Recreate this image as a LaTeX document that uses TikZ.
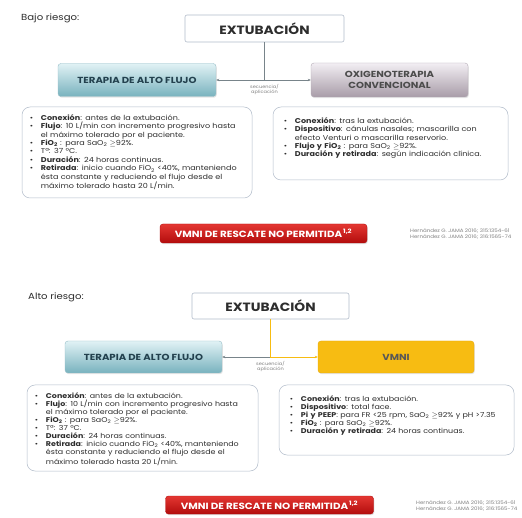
\documentclass[tikz,border=0pt]{standalone}
\usepackage{fontspec}
\setmainfont{Poppins}[FakeStretch=1.15]
\usetikzlibrary{shadows,arrows.meta}
\definecolor{tealtop}{RGB}{225,242,245}
\definecolor{tealbot}{RGB}{120,178,190}
\definecolor{tealedge}{RGB}{150,190,200}
\definecolor{tealtext}{RGB}{35,65,78}
\definecolor{greytop}{RGB}{242,238,243}
\definecolor{greybot}{RGB}{168,156,168}
\definecolor{greyedge}{RGB}{180,172,182}
\definecolor{vmnicol}{RGB}{247,188,18}
\definecolor{vmniedge}{RGB}{232,170,10}
\definecolor{redtop}{RGB}{228,55,50}
\definecolor{redbot}{RGB}{178,12,12}
\definecolor{boxedge}{RGB}{178,188,202}
\definecolor{linegrey}{RGB}{120,132,138}
\definecolor{txt}{RGB}{45,45,45}
\newcommand\bitem[1]{\par\hangindent=12pt\hangafter=1\noindent\makebox[12pt][l]{\hspace{1pt}•}#1}
\newcommand\hfnclist{%
\bitem{\textbf{Conexión}: antes de la extubación.}
\bitem{\textbf{Flujo}: 10 L/min con incremento progresivo hasta\newline el máximo tolerado por el paciente.}
\bitem{\textbf{FiO\textsubscript{2}} : para SaO\textsubscript{2} $\geq$92\%.}
\bitem{Tª: 37 ºC.}
\bitem{\textbf{Duración}: 24 horas continuas.}
\bitem{\textbf{Retirada}: inicio cuando FiO\textsubscript{2} <40\%, manteniendo\newline ésta constante y reduciendo el flujo desde el\newline máximo tolerado hasta 20 L/min.}\par}
\tikzset{
  hdr/.style={draw=boxedge, fill=white, rounded corners=2pt, line width=0.6pt,
    inner sep=0pt, font=\fontsize{12}{14}\selectfont\bfseries, text=txt},
  tbox/.style={rounded corners=3pt, draw=tealedge, top color=tealtop, bottom color=tealbot,
    drop shadow={opacity=0.2, shadow xshift=0.8pt, shadow yshift=-1.2pt},
    inner sep=0pt, font=\fontsize{8.8}{11}\selectfont\bfseries, text=tealtext, align=center},
  gbox/.style={rounded corners=3pt, draw=greyedge, top color=greytop, bottom color=greybot,
    drop shadow={opacity=0.2, shadow xshift=0.8pt, shadow yshift=-1.2pt},
    inner sep=0pt, font=\fontsize{8.8}{11.5}\selectfont\bfseries, text=txt!85, align=center},
  ybox/.style={rounded corners=3pt, draw=vmniedge, fill=vmnicol,
    drop shadow={opacity=0.2, shadow xshift=0.8pt, shadow yshift=-1.2pt},
    inner sep=0pt, font=\fontsize{8.8}{11}\selectfont\bfseries, text=txt!80},
  cbox/.style={draw=boxedge, fill=white, rounded corners=8pt, line width=0.5pt, inner sep=0pt},
  ctext/.style={inner sep=0pt, align=left, text=txt, font=\fontsize{7}{8.4}\selectfont},
  redbtn/.style={rounded corners=3pt, top color=redtop, bottom color=redbot, draw=redbot,
    drop shadow={opacity=0.25, shadow xshift=0.8pt, shadow yshift=-1.2pt},
    inner sep=0pt, text=white, font=\fontsize{9}{11}\selectfont\bfseries},
  cite/.style={inner sep=0pt, align=left, text=txt!60, font=\fontsize{4.8}{5.6}\selectfont},
  lbl/.style={inner sep=0pt, align=center, text=txt!60, font=\fontsize{4.4}{5}\selectfont},
  risk/.style={inner sep=0pt, text=txt, font=\fontsize{8.8}{10}\selectfont},
  conn/.style={line width=0.6pt, draw=linegrey},
  arr/.style={conn, -{Stealth[length=3pt,width=2.5pt]}},
}
\begin{document}
\begin{tikzpicture}[x=1pt,y=-1pt]
\useasboundingbox[fill=white] (0,0) rectangle (522,518);

% ---------- Bajo riesgo ----------
\node[risk, anchor=west] (bajo) at (21,18) {Bajo riesgo:};
\node[hdr, minimum width=159pt, minimum height=27pt] (ext1) at (264.5,28.5) {EXTUBACIÓN};
\node[tbox, minimum width=158pt, minimum height=33pt] (tf1) at (137,80) {TERAPIA DE ALTO FLUJO};
\node[gbox, minimum width=157pt, minimum height=34pt] (ox1) at (389.5,80) {OXIGENOTERAPIA\\CONVENCIONAL};
\draw[conn] (ext1.south) -- (ext1.south |- tf1.east);
\draw[arr] (ext1.south |- tf1.east) -- (tf1.east);
\draw[arr] (ext1.south |- ox1.west) -- (ox1.west);
\node[lbl, anchor=north] (lab1) at ([yshift=-4pt]ext1.south |- tf1.east) {secuencia/\\aplicación};

\node[cbox, minimum width=230pt, minimum height=91pt] (l1) at (137,152.5) {};
\node[ctext, text width=222pt, anchor=north west] (l1t) at ([xshift=7pt,yshift=-5pt]l1.north west) {\hfnclist};
\node[cbox, minimum width=235pt, minimum height=73pt] (r1) at (390.5,143.5) {};
\node[ctext, text width=222pt, anchor=north west] (r1t) at ([xshift=10pt,yshift=-8pt]r1.north west) {%
\bitem{\textbf{Conexión}: tras la extubación.}
\bitem{\textbf{Dispositivo}: cánulas nasales; mascarilla con\newline efecto Venturi o mascarilla reservorio.}
\bitem{\textbf{Flujo y FiO\textsubscript{2}} : para SaO\textsubscript{2} $\geq$92\%.}
\bitem{\textbf{Duración y retirada}: según indicación clínica.}\par};

\node[redbtn, minimum width=207pt, minimum height=19pt] (red1) at (263.5,233.5) {VMNI DE RESCATE NO PERMITIDA\textsuperscript{\,1,2}};
\node[cite, anchor=west] (cite1) at (410,234) {Hernández G. JAMA 2016; 315:1354-61\\Hernández G. JAMA 2016; 316:1565-74};

% ---------- Alto riesgo ----------
\node[risk, anchor=west] (alto) at (28,297) {Alto riesgo:};
\node[hdr, minimum width=157pt, minimum height=26pt] (ext2) at (270.5,306) {EXTUBACIÓN};
\node[tbox, minimum width=157pt, minimum height=32pt] (tf2) at (143.5,357) {TERAPIA DE ALTO FLUJO};
\node[ybox, minimum width=156pt, minimum height=32pt] (vm) at (396,357) {VMNI};
\draw[arr] (ext2.south |- tf2.east) -- (tf2.east);
\draw[conn, draw=vmnicol, -{Stealth[length=3pt,width=2.5pt]}] (ext2.south) |- (vm.west);
\node[lbl, anchor=north] (lab2) at ([yshift=-4pt]ext2.south |- tf2.east) {secuencia/\\aplicación};

\node[cbox, minimum width=231pt, minimum height=86pt] (l2) at (142.5,428) {};
\node[ctext, text width=222pt, anchor=north west, font=\fontsize{6.9}{8.1}\selectfont] (l2t) at ([xshift=7pt,yshift=-5pt]l2.north west) {\hfnclist};
\node[cbox, minimum width=235pt, minimum height=70pt] (r2) at (396.5,420) {};
\node[ctext, text width=224pt, anchor=north west, font=\fontsize{6.9}{8.1}\selectfont] (r2t) at ([xshift=10pt,yshift=-8pt]r2.north west) {%
\bitem{\textbf{Conexión}: tras la extubación.}
\bitem{\textbf{Dispositivo}: total face.}
\bitem{\textbf{Pi y PEEP}: para FR <25 rpm, SaO\textsubscript{2} $\geq$92\% y pH >7.35}
\bitem{\textbf{FiO\textsubscript{2}} : para SaO\textsubscript{2} $\geq$92\%.}
\bitem{\textbf{Duración y retirada}: 24 horas continuas.}\par};

\node[redbtn, minimum width=208pt, minimum height=18pt] (red2) at (269.5,505) {VMNI DE RESCATE NO PERMITIDA\textsuperscript{\,1,2}};
\node[cite, anchor=west] (cite2) at (416,506) {Hernández G. JAMA 2016; 315:1354-61\\Hernández G. JAMA 2016; 316:1565-74};
\end{tikzpicture}
\end{document}
